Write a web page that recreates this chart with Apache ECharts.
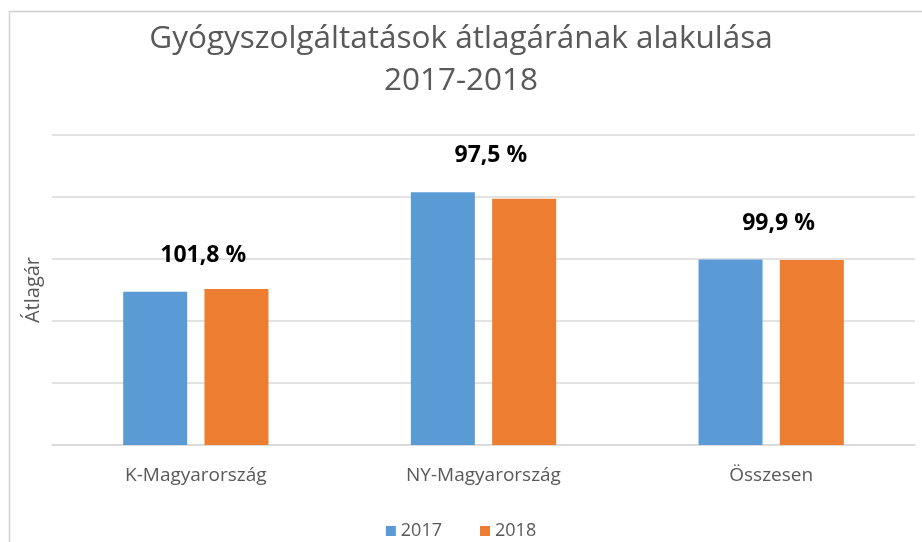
<!DOCTYPE html>
<html>
<head>
<meta charset="utf-8">
<title>Gyógyszolgáltatások átlagára</title>
<script src="https://cdn.jsdelivr.net/npm/echarts@6/dist/echarts.min.js"></script>
<style>
  html, body { margin: 0; padding: 0; background: #fff; }
  #chart { width: 922px; height: 542px; }
</style>
</head>
<body>
<div id="chart"></div>
<script>
// adatok
var categories = ['K-Magyarország', 'NY-Magyarország', 'Összesen'];
var values2017 = [2470, 4075, 2990];
var values2018 = [2515, 3970, 2985];
var changeLabels = ['101,8 %', '97,5 %', '99,9 %'];
var yMin = 0, yMax = 5000, yStep = 1000;

var chart = echarts.init(document.getElementById('chart'));
var font = '"Open Sans", "Liberation Sans", sans-serif';

var option = {
  animation: false,
  textStyle: { fontFamily: font },
  graphic: [{
    type: 'rect',
    shape: { x: 9.5, y: 11.5, width: 930, height: 540 },
    style: { fill: 'none', stroke: '#d0d0d0', lineWidth: 1.5 },
    silent: true
  }],
  title: {
    text: 'Gyógyszolgáltatások átlagárának alakulása\n2017-2018',
    left: 'center',
    top: 13,
    textStyle: { fontFamily: font, fontSize: 31.5, fontWeight: 'normal', color: '#595959', lineHeight: 42 }
  },
  legend: {
    data: ['2017', '2018'],
    top: 517,
    left: 'center',
    itemWidth: 10,
    itemHeight: 10,
    itemGap: 38,
    icon: 'rect',
    textStyle: { fontFamily: font, fontSize: 18, color: '#595959' }
  },
  grid: { left: 52, right: 7, top: 135, bottom: 97 },
  xAxis: {
    type: 'category',
    data: categories,
    axisTick: { show: false },
    axisLine: { lineStyle: { color: '#d9d9d9', width: 1.5 } },
    axisLabel: { fontFamily: font, fontSize: 19, color: '#595959', margin: 21 }
  },
  yAxis: {
    type: 'value',
    min: yMin,
    max: yMax,
    interval: yStep,
    name: 'Átlagár',
    nameLocation: 'middle',
    nameGap: 9,
    nameRotate: 90,
    nameTextStyle: { fontFamily: font, fontSize: 20, color: '#595959' },
    axisLabel: { show: false },
    axisLine: { show: false },
    axisTick: { show: false },
    splitLine: { lineStyle: { color: '#d9d9d9', width: 1.5 } }
  },
  series: [{
    name: '2017',
    type: 'bar',
    data: values2017,
    barWidth: 64,
    barGap: '27%',
    itemStyle: { color: '#5B9BD5' },
    label: {
      show: true,
      position: 'top',
      distance: 25,
      offset: [48, 0],
      formatter: function (p) { return changeLabels[p.dataIndex]; },
      fontFamily: font,
      fontSize: 23,
      fontWeight: 'bold',
      color: '#000'
    }
  }, {
    name: '2018',
    type: 'bar',
    data: values2018,
    barWidth: 64,
    itemStyle: { color: '#ED7D31' }
  }]
};

chart.setOption(option);
</script>
</body>
</html>
